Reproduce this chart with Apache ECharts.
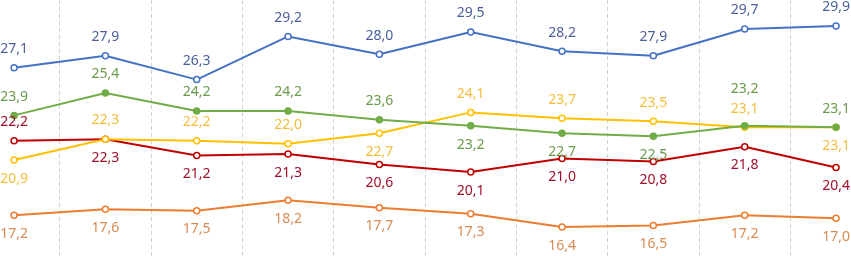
<!DOCTYPE html>
<html><head><meta charset="utf-8">
<script src="https://cdn.jsdelivr.net/npm/echarts@6/dist/echarts.min.js"></script>
<style>html,body{margin:0;padding:0;background:#fff}#c{width:851px;height:256px}</style>
</head><body><div id="c"></div>
<script>
const categories = ['1','2','3','4','5','6','7','8','9','10'];
const blueVals   = [27.1, 27.9, 26.3, 29.2, 28.0, 29.5, 28.2, 27.9, 29.7, 29.9];
const greenVals  = [23.9, 25.4, 24.2, 24.2, 23.6, 23.2, 22.7, 22.5, 23.2, 23.1];
const yellowVals = [20.9, 22.3, 22.2, 22.0, 22.7, 24.1, 23.7, 23.5, 23.1, 23.1];
const redVals    = [22.2, 22.3, 21.2, 21.3, 20.6, 20.1, 21.0, 20.8, 21.8, 20.4];
const orangeVals = [17.2, 17.6, 17.5, 18.2, 17.7, 17.3, 16.4, 16.5, 17.2, 17.0];

const greenPos  = ['top','top','top','top','top','bottom','bottom','bottom','top','top'];
const yellowPos = ['bottom','top','top','top','bottom','top','top','top','top','bottom'];
const redPos    = ['top','bottom','bottom','bottom','bottom','bottom','bottom','bottom','bottom','bottom'];

const fmt = v => v.toFixed(1).replace('.', ',');

function mk(name, vals, lineColor, labelColor, positions, filled, layoutFn) {
  const s = {
    name, type: 'line', data: vals.map((v, i) => ({ value: v, label: { position: positions[i] } })),
    symbol: 'circle', symbolSize: 6,
    lineStyle: { color: lineColor, width: 2 },
    itemStyle: { color: filled ? lineColor : '#fff', borderColor: lineColor, borderWidth: 1.5 },
    label: {
      show: true, distance: 8, color: labelColor,
      fontFamily: 'Noto Sans', fontSize: 14,
      formatter: p => fmt(p.value)
    },
    labelLayout: layoutFn || { hideOverlap: false },
    emphasis: { disabled: true },
    animation: false
  };
  return s;
}

const greenLayout = function (params) {
  if (params.dataIndex === 8) return { dy: -18 };
  return {};
};

const chart = echarts.init(document.getElementById('c'));
chart.setOption({
  animation: false,
  grid: { left: -31.6, width: 913.3, top: 0, height: 256, outerBoundsMode: 'none', containLabel: false },
  xAxis: {
    type: 'category', data: categories, boundaryGap: true,
    axisLine: { show: false }, axisTick: { show: false }, axisLabel: { show: false },
    splitLine: { show: true, lineStyle: { color: '#d0d0d0', type: [4, 3], width: 1 } }
  },
  yAxis: {
    type: 'value', min: 14.46, max: 31.645,
    axisLine: { show: false }, axisTick: { show: false }, axisLabel: { show: false },
    splitLine: { show: false }
  },
  series: [
    mk('orange', orangeVals, '#ED7D31', '#D98A52', Array(10).fill('bottom'), false),
    mk('red', redVals, '#C00000', '#A0102A', redPos, false),
    mk('yellow', yellowVals, '#FFC000', '#F2BE3C', yellowPos, false),
    mk('green', greenVals, '#70AD47', '#6A9A4C', greenPos, true, greenLayout),
    mk('blue', blueVals, '#4472C4', '#4A5F9A', Array(10).fill('top'), false)
  ]
});
</script></body></html>
